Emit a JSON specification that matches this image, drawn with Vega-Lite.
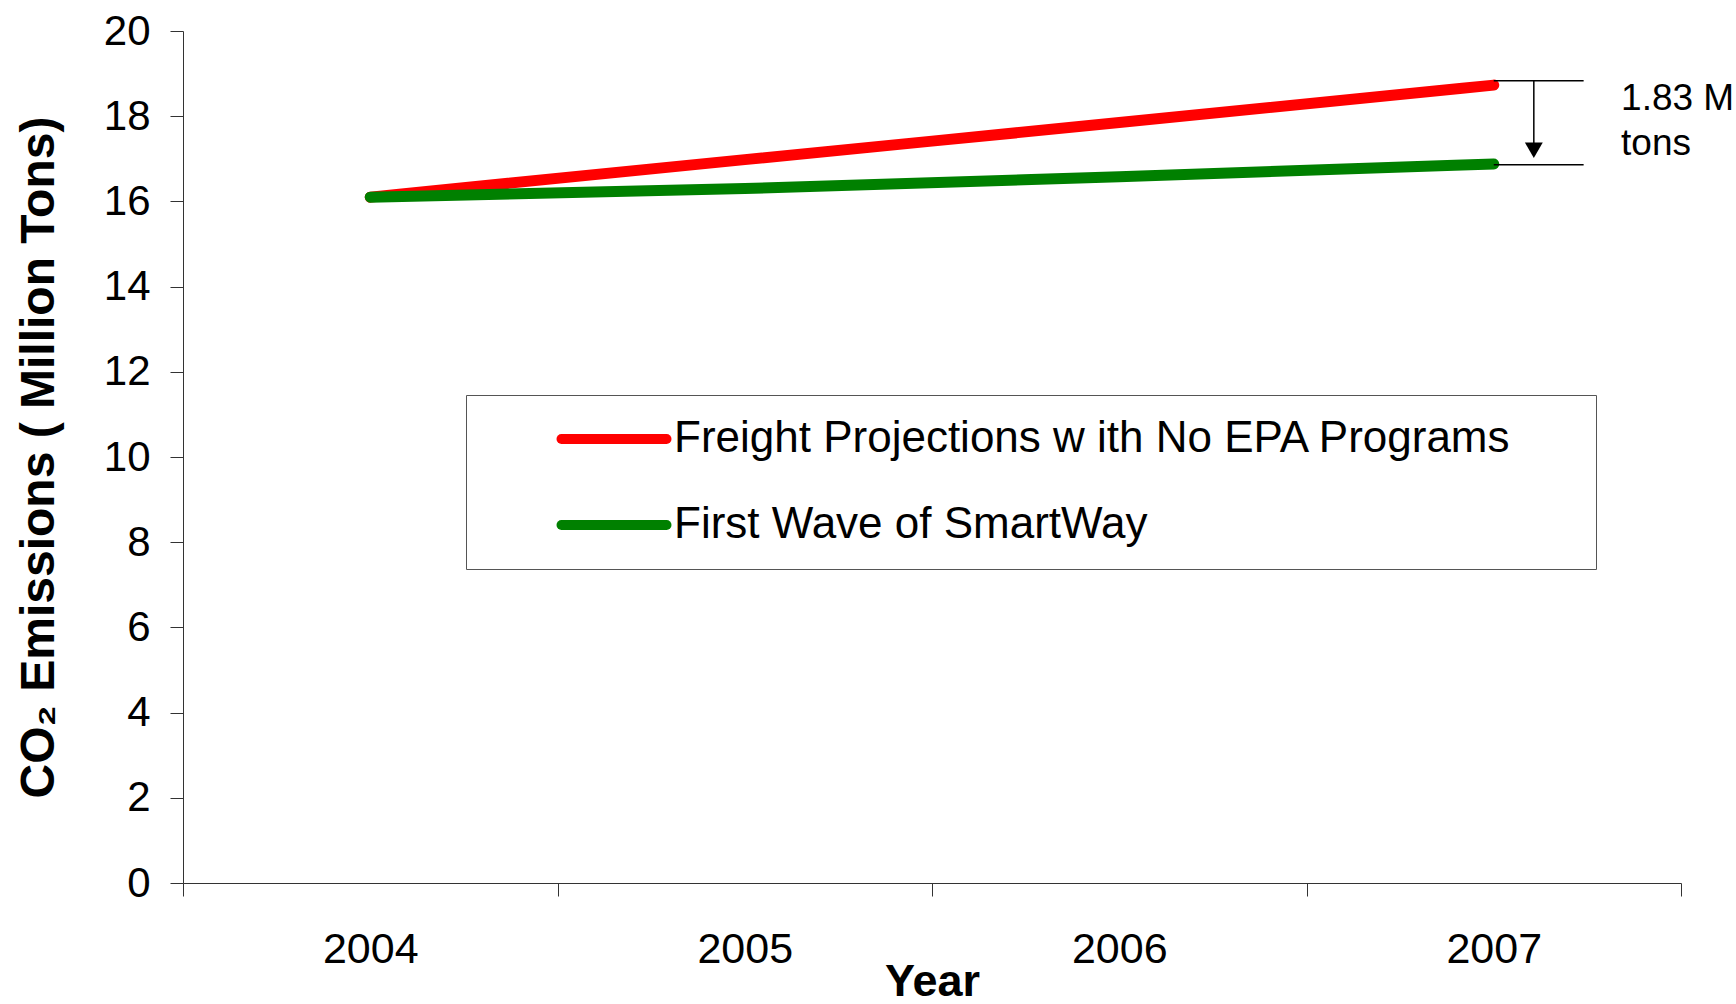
{
  "$schema": "https://vega.github.io/schema/vega-lite/v6.json",
  "width": 1498,
  "height": 852,
  "autosize": {"type": "none"},
  "padding": {"left": 183, "top": 31, "right": 55, "bottom": 121},
  "background": "white",
  "config": {
    "view": {"stroke": null},
    "font": "Liberation Sans",
    "axis": {"grid": false, "labelFont": "Liberation Sans", "titleFont": "Liberation Sans", "labelColor": "black", "titleColor": "black", "domainColor": "#333", "tickColor": "#333", "tickSize": 13}
  },
  "layer": [
    {
      "data": {"values": [
        {"Year": 2004, "Series": "Freight Projections w ith No EPA Programs", "Value": 16.1},
        {"Year": 2005, "Series": "Freight Projections w ith No EPA Programs", "Value": 16.98},
        {"Year": 2006, "Series": "Freight Projections w ith No EPA Programs", "Value": 17.85},
        {"Year": 2007, "Series": "Freight Projections w ith No EPA Programs", "Value": 18.73},
        {"Year": 2004, "Series": "First Wave of SmartWay", "Value": 16.1},
        {"Year": 2005, "Series": "First Wave of SmartWay", "Value": 16.3},
        {"Year": 2006, "Series": "First Wave of SmartWay", "Value": 16.58},
        {"Year": 2007, "Series": "First Wave of SmartWay", "Value": 16.88}
      ]},
      "mark": {"type": "line", "strokeWidth": 11, "strokeCap": "round", "strokeJoin": "round", "interpolate": "monotone"},
      "encoding": {
        "x": {"field": "Year", "type": "quantitative",
          "scale": {"domain": [2003.5, 2007.5], "nice": false, "zero": false},
          "axis": {"title": "Year", "titleFontSize": 45, "titleFontWeight": "bold", "titlePadding": -12,
            "values": [2003.5, 2004, 2004.5, 2005, 2005.5, 2006, 2006.5, 2007, 2007.5],
            "labelExpr": "datum.value % 1 === 0 ? toString(datum.value) : ''",
            "labelOverlap": false, "labelFlush": false, "labelFontSize": 43, "labelPadding": 32,
            "tickOpacity": {"condition": {"test": "datum.value % 1 === 0", "value": 0}, "value": 1}}},
        "y": {"field": "Value", "type": "quantitative",
          "scale": {"domain": [0, 20], "nice": false},
          "axis": {"title": "CO₂ Emissions ( Million Tons)", "titleFontSize": 48, "titleFontWeight": "bold", "titlePadding": 40,
            "values": [0, 2, 4, 6, 8, 10, 12, 14, 16, 18, 20], "labelFontSize": 42, "labelPadding": 20}},
        "color": {"field": "Series", "type": "nominal",
          "scale": {"domain": ["Freight Projections w ith No EPA Programs", "First Wave of SmartWay"], "range": ["#FF0000", "#008000"]},
          "legend": {"orient": "none", "legendX": 283, "legendY": 364, "title": null,
            "labelFontSize": 44, "labelColor": "black", "labelLimit": 2000,
            "labelExpr": "datum.label + '\u00a0\u00a0\u00a0\u00a0\u00a0\u200b'",
            "symbolType": "M-4,0H4", "symbolSize": 689, "symbolStrokeWidth": 10,
            "strokeColor": "#555", "fillColor": "white", "padding": 22, "rowPadding": 42,
            "labelOffset": 38, "symbolOffset": 104,
            "encode": {"symbols": {"update": {"strokeCap": {"value": "round"}}}}}}
      }
    },
    {
      "data": {"values": [
        {"x1": 2007.0, "x2": 2007.24, "y": 18.83},
        {"x1": 2007.0, "x2": 2007.24, "y": 16.86}
      ]},
      "mark": {"type": "rule", "color": "black", "strokeWidth": 1.5},
      "encoding": {
        "x": {"field": "x1", "type": "quantitative"},
        "x2": {"field": "x2"},
        "y": {"field": "y", "type": "quantitative"}
      }
    },
    {
      "data": {"values": [{"x": 2007.107, "y1": 18.83, "y2": 17.3}]},
      "mark": {"type": "rule", "color": "black", "strokeWidth": 1.5},
      "encoding": {
        "x": {"field": "x", "type": "quantitative"},
        "y": {"field": "y1", "type": "quantitative"},
        "y2": {"field": "y2"}
      }
    },
    {
      "data": {"values": [{"x": 2007.107, "y": 17.2}]},
      "mark": {"type": "point", "shape": "triangle-down", "filled": true, "color": "black", "size": 320, "opacity": 1},
      "encoding": {
        "x": {"field": "x", "type": "quantitative"},
        "y": {"field": "y", "type": "quantitative"}
      }
    },
    {
      "data": {"values": [
        {"x": 2007.34, "y": 18.15, "label": "1.83 M"},
        {"x": 2007.34, "y": 17.1, "label": "tons"}
      ]},
      "mark": {"type": "text", "align": "left", "baseline": "alphabetic", "fontSize": 37, "font": "Liberation Sans", "color": "black"},
      "encoding": {
        "x": {"field": "x", "type": "quantitative"},
        "y": {"field": "y", "type": "quantitative"},
        "text": {"field": "label"}
      }
    }
  ]
}
